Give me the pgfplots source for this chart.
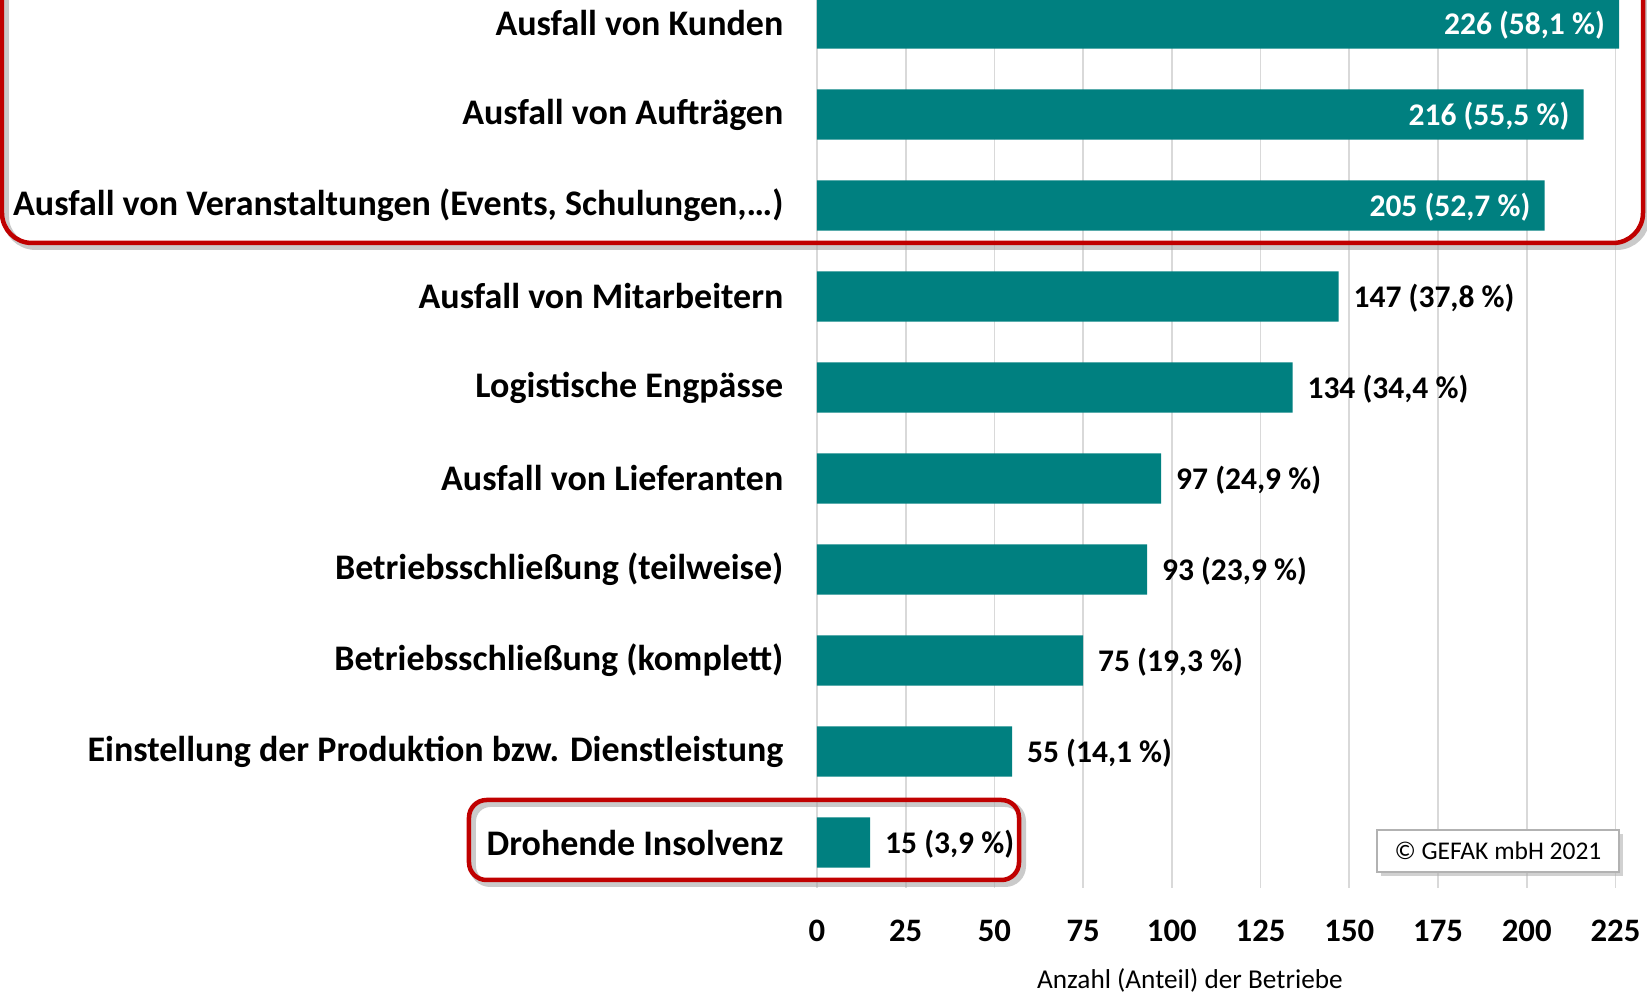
\documentclass[border=0pt]{standalone}
\usepackage{pgfplots}
\pgfplotsset{compat=1.18}
\usepackage{fontspec}
\setmainfont{Carlito}
\definecolor{barteal}{RGB}{0,128,128}
\definecolor{boxred}{RGB}{192,0,0}
\definecolor{gridgray}{RGB}{217,217,217}
\newcommand{\catfont}{\bfseries\fontsize{14.4}{17}\selectfont}
\newcommand{\valfont}{\bfseries\fontsize{12.6}{15}\selectfont}
\newcommand{\tickfont}{\bfseries\fontsize{13.1}{15}\selectfont}
\newcommand{\px}[2]{({(#1-817)*0.4pt},{(888-#2)*0.4pt})}
\newcommand{\pxs}[2]{({(#1-817)*0.4pt+1.5pt},{(888-#2)*0.4pt-1.5pt})}
\begin{document}
\begin{tikzpicture}
\begin{axis}[
  at={(0,0)}, anchor=south west,
  scale only axis, width=319.4pt, height=364pt,
  xbar, bar width=0.55, bar shift=0pt,
  xmin=0, xmax=225, ymin=-0.5, ymax=9.5, y dir=reverse,
  axis line style={draw=none},
  tick style={draw=none},
  xmajorgrids, grid style={gridgray, line width=0.7pt},
  xtick={0,25,...,225},
  ytick={0,...,9},
  yticklabels={Ausfall von Kunden, Ausfall von Aufträgen, {Ausfall von Veranstaltungen (Events, Schulungen,…)}, Ausfall von Mitarbeitern, Logistische Engpässe, Ausfall von Lieferanten, Betriebsschließung (teilweise), Betriebsschließung (komplett), Einstellung der Produktion bzw. Dienstleistung, Drohende Insolvenz},
  yticklabel style={font=\catfont, anchor=east, inner sep=0pt, xshift=-9pt},
  xticklabel style={font=\tickfont, anchor=center, yshift=-17.2pt},
  /pgf/number format/assume math mode=true,
  xlabel={Anzahl (Anteil) der Betriebe},
  xlabel style={font=\fontsize{10.9}{13}\selectfont, at={(axis description cs:0.467,0)}, anchor=center, yshift=-37pt},
  nodes near coords,
  point meta=explicit symbolic,
  clip=false,
]
\addplot[fill=barteal, draw=none, every node near coord/.append style={font=\valfont, text=white, anchor=east, inner sep=0pt, xshift=-5.5pt, yshift=-0.8pt}]
  coordinates {(226,0) [226 (58,1 \%)] (216,1) [216 (55,5 \%)] (205,2) [205 (52,7 \%)]};
\addplot[fill=barteal, draw=none, every node near coord/.append style={font=\valfont, text=black, anchor=west, inner sep=0pt, xshift=5.8pt, yshift=-0.8pt}]
  coordinates {(147,3) [147 (37,8 \%)] (134,4) [134 (34,4 \%)] (97,5) [97 (24,9 \%)] (93,6) [93 (23,9 \%)] (75,7) [75 (19,3 \%)] (55,8) [55 (14,1 \%)] (15,9) [15 (3,9 \%)]};
\end{axis}
% highlight boxes (shadow strokes first)
\draw[black!35, opacity=0.6, line width=2.6pt, rounded corners=12pt] \pxs{2}{-60} rectangle \pxs{1643}{243};
\draw[boxred, line width=1.8pt, rounded corners=12pt] \px{2}{-60} rectangle \px{1643}{243};
\draw[black!35, opacity=0.6, line width=2.6pt, rounded corners=7pt] \pxs{469}{800} rectangle \pxs{1019}{880};
\draw[boxred, line width=1.8pt, rounded corners=7pt] \px{469}{800} rectangle \px{1019}{880};
% copyright box
\fill[black!30, opacity=0.6] \pxs{1377}{830} rectangle \pxs{1619}{872};
\draw[fill=white, draw=black!30, line width=0.6pt] \px{1377}{830} rectangle \px{1619}{872};
\node[font=\fontsize{10.2}{12}\selectfont, anchor=center] at \px{1498}{851} {© GEFAK mbH 2021};
\pgfresetboundingbox
\useasboundingbox \px{0}{0} rectangle \px{1647}{993};
\end{tikzpicture}
\end{document}
